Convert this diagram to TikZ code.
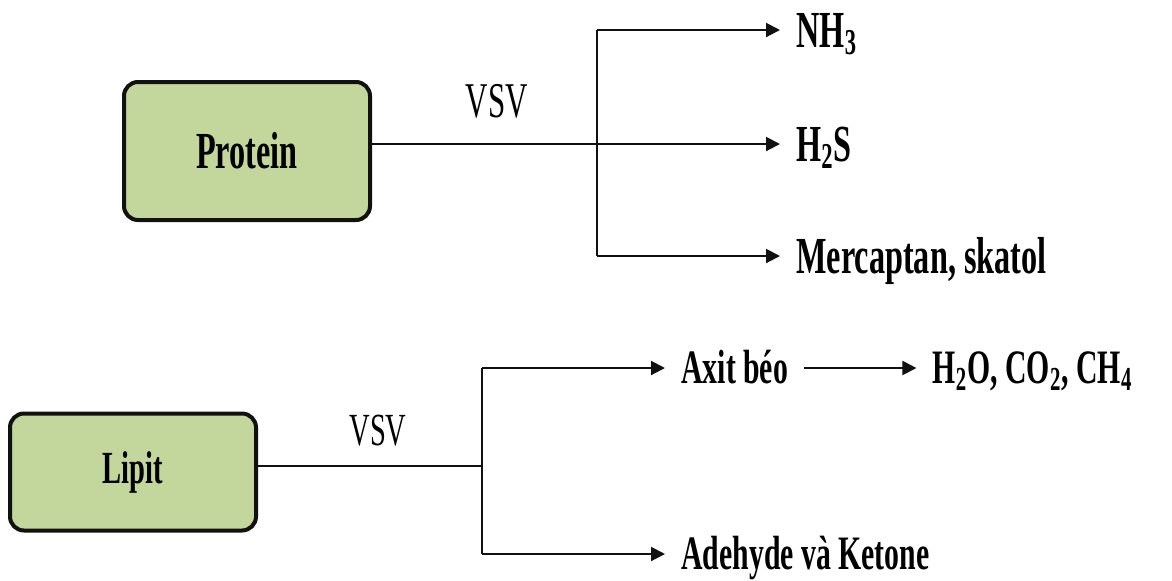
\documentclass[tikz,border=0pt]{standalone}
\usepackage{fontspec}
\setmainfont{Liberation Serif}[FakeStretch=0.62]
\usepackage{tikz}
\usetikzlibrary{arrows.meta,positioning}
\definecolor{olive}{HTML}{C3D69B}
\definecolor{ink}{HTML}{111111}
\tikzset{
  srcbox/.style={rectangle, rounded corners=7pt, draw=ink, fill=olive, line width=2pt,
                 minimum width=123pt, font=\fontsize{26}{30}\selectfont\bfseries},
  prod/.style={inner xsep=8pt, inner ysep=0pt, text height=17pt, text depth=0pt,
               font=\fontsize{26}{30}\selectfont\bfseries},
  prodsm/.style={prod, text height=15.5pt, font=\fontsize{24}{28}\selectfont\bfseries},
  tag/.style={inner sep=0pt, font=\fontsize{25}{30}\selectfont},
  wire/.style={draw=ink, line width=1pt},
  flow/.style={-{Triangle[length=7pt,width=7pt]}, draw=ink, line width=1pt}
}
\begin{document}
\begin{tikzpicture}[x=0.5pt,y=-0.5pt]
  \useasboundingbox (0,0) rectangle (1172,580);
  \node[srcbox, minimum height=69pt] (prot) at (247,151) {Protein};
  \node[prod, anchor=west] (nh3) at (780,30) {NH\textsubscript{3}};
  \node[prod, below=57pt of nh3.west, anchor=west] (h2s) {H\textsubscript{2}S};
  \node[prod, below=56pt of h2s.west, anchor=west] (merc) {Mercaptan, skatol};
  \coordinate (pjoin) at (597,144);
  \node[tag] (vsvp) at (497,101) {VSV};
  \draw[flow] (prot.east |- h2s.west) -- (h2s.west);
  \draw[wire] (pjoin |- nh3.west) -- (pjoin |- merc.west);
  \draw[flow] (pjoin |- nh3.west) -- (nh3.west);
  \draw[flow] (pjoin |- merc.west) -- (merc.west);

  \node[srcbox, minimum height=58.5pt, font=\fontsize{23}{27}\selectfont\bfseries] (lip) at (133,472) {Lipit};
  \node[prodsm, anchor=west] (axit) at (665,368) {Axit béo};
  \node[prodsm, right=56pt of axit] (gas) {H\textsubscript{2}O, CO\textsubscript{2}, CH\textsubscript{4}};
  \node[prodsm, below=93pt of axit.west, anchor=west] (ald) {Adehyde và Ketone};
  \coordinate (ljoin) at (482,466);
  \node[tag, font=\fontsize{23}{27}\selectfont] (vsvl) at (378,431) {VSV};
  \draw[wire] (lip.east |- ljoin) -- (ljoin);
  \draw[wire] (ljoin |- axit.west) -- (ljoin |- ald.west);
  \draw[flow] (ljoin |- axit.west) -- (axit.west);
  \draw[flow] (ljoin |- ald.west) -- (ald.west);
  \draw[flow] (axit) -- (gas);
\end{tikzpicture}
\end{document}
